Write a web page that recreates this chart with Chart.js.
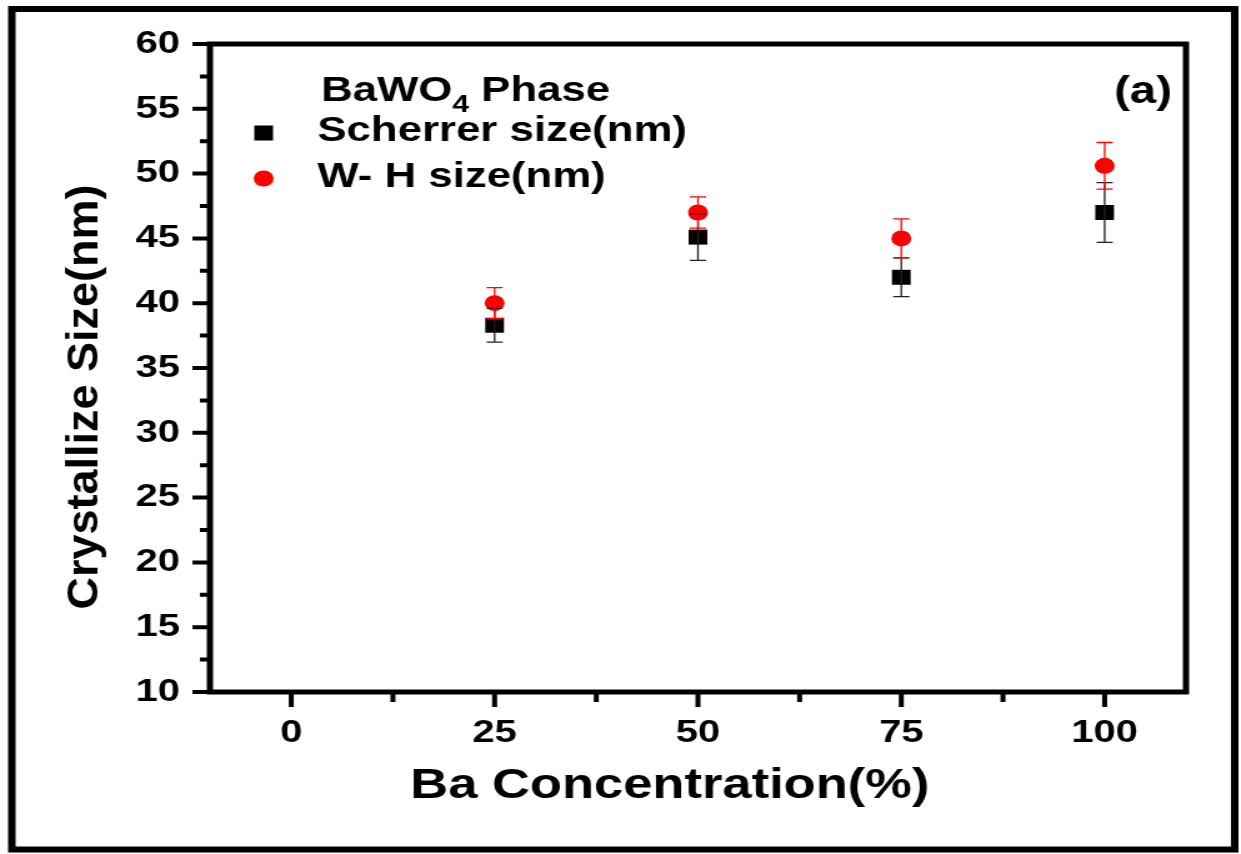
<!DOCTYPE html>
<html>
<head>
<meta charset="utf-8">
<script src="https://cdn.jsdelivr.net/npm/chart.js@4.4.0/dist/chart.umd.min.js"></script>
<style>
  html, body { margin: 0; padding: 0; background: #fff; }
  #chart { display: block; background: #fff; }
</style>
</head>
<body>
<!-- the reference figure is stretched sideways, so the canvas is too -->
<canvas id="chart" width="993" height="854" style="width:1241px;height:854px;"></canvas>
<script>
const concentration = [25, 50, 75, 100];
const scherrerSize = [38.3, 45.1, 42.0, 47.0];
const scherrerErr = [1.3, 1.8, 1.5, 2.3];
const whSize = [40.0, 47.0, 45.0, 50.6];
const whErr = [1.2, 1.2, 1.5, 1.8];

const xTicks = [0, 25, 50, 75, 100];
const yTicks = [10, 15, 20, 25, 30, 35, 40, 45, 50, 55, 60];

const STRETCH = 1241 / 993;
const FONT = '"Liberation Sans", Arial, Helvetica, sans-serif';
const errorBars = [scherrerErr, whErr];
const errorColors = ['#222', '#ff0000'];

function midpoints(arr) {
  const out = [];
  for (let i = 0; i < arr.length - 1; i++) out.push((arr[i] + arr[i + 1]) / 2);
  return out;
}

const decorPlugin = {
  id: 'decor',
  afterDatasetsDraw(chart) {
    const ctx = chart.ctx;
    const xs = chart.scales.x, ys = chart.scales.y;
    chart.data.datasets.forEach((ds, i) => {
      ctx.save();
      ctx.strokeStyle = errorColors[i];
      ctx.lineWidth = 1.3;
      ds.data.forEach((p, j) => {
        const px = xs.getPixelForValue(p.x);
        const top = ys.getPixelForValue(p.y + errorBars[i][j]);
        const bot = ys.getPixelForValue(p.y - errorBars[i][j]);
        ctx.beginPath();
        ctx.moveTo(px, top); ctx.lineTo(px, bot);
        ctx.moveTo(px - 6.5, top); ctx.lineTo(px + 6.5, top);
        ctx.moveTo(px - 6.5, bot); ctx.lineTo(px + 6.5, bot);
        ctx.stroke();
      });
      ctx.restore();
    });
  },
  afterDraw(chart) {
    const ctx = chart.ctx;
    const {left, right, top, bottom} = chart.chartArea;
    const xs = chart.scales.x, ys = chart.scales.y;
    ctx.save();
    ctx.strokeStyle = '#000';
    ctx.fillStyle = '#000';

    // outer frame
    ctx.lineWidth = 6;
    ctx.strokeRect(9.5, 9, 988 - 9.5, 849.5 - 9);

    // plot box
    ctx.lineWidth = 5;
    ctx.strokeRect(left, top, right - left, bottom - top);

    // tick marks (outward)
    ctx.lineWidth = 4;
    ctx.beginPath();
    xTicks.forEach(v => { const p = xs.getPixelForValue(v); ctx.moveTo(p, bottom); ctx.lineTo(p, bottom + 15); });
    midpoints(xTicks).forEach(v => { const p = xs.getPixelForValue(v); ctx.moveTo(p, bottom); ctx.lineTo(p, bottom + 10); });
    yTicks.forEach(v => { const p = ys.getPixelForValue(v); ctx.moveTo(left, p); ctx.lineTo(left - 14, p); });
    midpoints(yTicks).forEach(v => { const p = ys.getPixelForValue(v); ctx.moveTo(left, p); ctx.lineTo(left - 8, p); });
    ctx.stroke();

    // axis titles
    ctx.font = 'bold 42px ' + FONT;
    ctx.textAlign = 'center';
    ctx.textBaseline = 'alphabetic';
    ctx.fillText('Ba Concentration(%)', 536, 798);

    ctx.save();
    ctx.translate(78.4, 397);
    ctx.scale(1 / STRETCH, 1);
    ctx.rotate(-Math.PI / 2);
    ctx.font = 'bold 45px ' + FONT;
    ctx.fillText('Crystallize Size(nm)', 0, 0);
    ctx.restore();

    // panel label
    ctx.font = 'bold 38px ' + FONT;
    ctx.fillText('(a)', 914.6, 103);

    // legend
    ctx.textAlign = 'left';
    let lx = 257;
    ctx.font = 'bold 35px ' + FONT;
    ctx.fillText('BaWO', lx, 101);
    lx += ctx.measureText('BaWO').width;
    ctx.font = 'bold 24px ' + FONT;
    ctx.fillText('4', lx, 112);
    lx += ctx.measureText('4').width;
    ctx.font = 'bold 35px ' + FONT;
    ctx.fillText(' Phase', lx, 101);

    const ds = chart.data.datasets;
    ctx.fillStyle = ds[0].backgroundColor;
    ctx.fillRect(211 - 7.5, 133 - 7.5, 15, 15);
    ctx.fillStyle = ds[1].backgroundColor;
    ctx.beginPath();
    ctx.arc(211, 178.5, 8, 0, Math.PI * 2);
    ctx.fill();

    ctx.fillStyle = '#000';
    ctx.fillText(ds[0].label, 254, 141);
    ctx.fillText(ds[1].label, 254, 187);
    ctx.restore();
  }
};

const tickFont = { family: FONT, size: 32, weight: 'bold' };

new Chart(document.getElementById('chart'), {
  type: 'scatter',
  data: {
    datasets: [
      {
        label: 'Scherrer size(nm)',
        data: concentration.map((c, i) => ({ x: c, y: scherrerSize[i] })),
        pointStyle: 'rect',
        pointRadius: 10.6,
        backgroundColor: '#000',
        borderColor: '#000',
        borderWidth: 0
      },
      {
        label: 'W- H size(nm)',
        data: concentration.map((c, i) => ({ x: c, y: whSize[i] })),
        pointStyle: 'circle',
        pointRadius: 8,
        backgroundColor: '#ff0000',
        borderColor: '#ff0000',
        borderWidth: 0
      }
    ]
  },
  options: {
    responsive: false,
    animation: false,
    devicePixelRatio: 1,
    layout: { padding: { left: 0, top: 44, right: 44, bottom: 0 } },
    plugins: { legend: { display: false }, tooltip: { enabled: false } },
    scales: {
      x: {
        type: 'linear',
        min: -10,
        max: 110,
        afterFit: s => { s.height = 162; },
        afterBuildTicks: s => { s.ticks = xTicks.map(v => ({ value: v })); },
        grid: { display: false, drawTicks: false },
        border: { display: false },
        ticks: { color: '#000', padding: 22, font: tickFont }
      },
      y: {
        type: 'linear',
        min: 10,
        max: 60,
        afterFit: s => { s.width = 168; },
        afterBuildTicks: s => { s.ticks = yTicks.map(v => ({ value: v })); },
        grid: { display: false, drawTicks: false },
        border: { display: false },
        ticks: { color: '#000', padding: 24, font: tickFont }
      }
    }
  },
  plugins: [decorPlugin]
});
</script>
</body>
</html>
